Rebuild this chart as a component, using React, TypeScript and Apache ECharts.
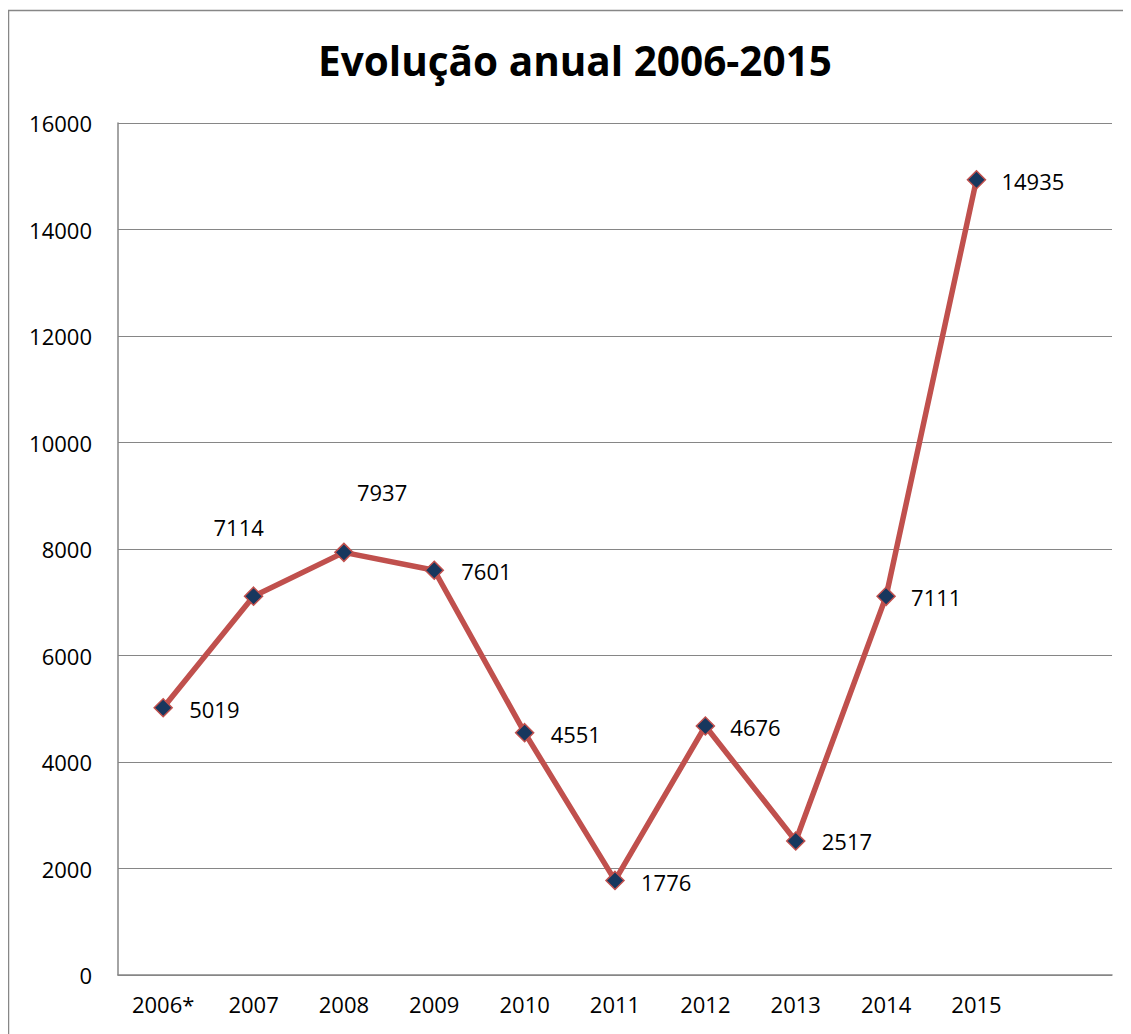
import React, { useEffect, useRef } from "react";
import * as echarts from "echarts";

const categories = ["2006*", "2007", "2008", "2009", "2010", "2011", "2012", "2013", "2014", "2015", ""];
const values = [5019, 7114, 7937, 7601, 4551, 1776, 4676, 2517, 7111, 14935];
const yTicks = { min: 0, max: 16000, interval: 2000 };
const title = "Evolução anual 2006-2015";
// label offsets (dx, dy) for each point relative to its marker
const labelOffsets: [number, number][] = [
  [26, 1], [-40, -69], [13, -60], [27, 1], [26, 1], [26, 2], [25, 1], [26, 0], [25, 1], [25, 1],
];

const FONT = "'Open Sans', 'Noto Sans', sans-serif";

export default function App() {
  const ref = useRef<HTMLDivElement>(null);
  useEffect(() => {
    if (!ref.current) return;
    const chart = echarts.init(ref.current, undefined, { renderer: "svg" });
    chart.setOption({
      animation: false,
      backgroundColor: "#ffffff",
      title: {
        text: title,
        left: 562,
        textAlign: "center",
        top: 27,
        textStyle: { fontFamily: FONT, fontSize: 40.5, fontWeight: "bold", color: "#000" },
      },
      graphic: [
        {
          type: "rect",
          shape: { x: 0.5, y: 2.5, width: 1140, height: 1100 },
          style: { fill: "none", stroke: "#878787", lineWidth: 1.5 },
          silent: true,
        },
      ],
      grid: { left: 110, top: 115, right: 19, bottom: 59, containLabel: false },
      xAxis: {
        type: "category",
        data: categories,
        boundaryGap: true,
        axisLine: { show: true, lineStyle: { color: "#868686", width: 1.5 } },
        axisTick: { show: false },
        axisLabel: { fontFamily: FONT, fontSize: 22, color: "#000", margin: 18, interval: 0 },
        splitLine: { show: false },
      },
      yAxis: {
        type: "value",
        min: yTicks.min,
        max: yTicks.max,
        interval: yTicks.interval,
        axisLine: { show: true, lineStyle: { color: "#868686", width: 1.5 } },
        axisTick: { show: false },
        axisLabel: {
          fontFamily: FONT,
          fontSize: 22,
          color: "#000",
          margin: 26,
          formatter: (v: number) => String(v),
        },
        splitLine: { show: true, lineStyle: { color: "#868686", width: 1.2 } },
      },
      series: [
        {
          type: "line",
          data: values.map((v, i) => ({
            value: v,
            label: { offset: labelOffsets[i] },
          })),
          lineStyle: { color: "#C0504D", width: 5.5 },
          itemStyle: { color: "#17375E", borderColor: "#C0504D", borderWidth: 1.5 },
          symbol: "diamond",
          symbolSize: 18,
          showAllSymbol: true,
          label: {
            show: true,
            position: "inside",
            align: "left",
            verticalAlign: "middle",
            fontFamily: FONT,
            fontSize: 22,
            color: "#000",
          },
          z: 3,
        },
      ],
    });
    return () => chart.dispose();
  }, []);
  return <div ref={ref} style={{ width: 1123, height: 1026 }} />;
}
